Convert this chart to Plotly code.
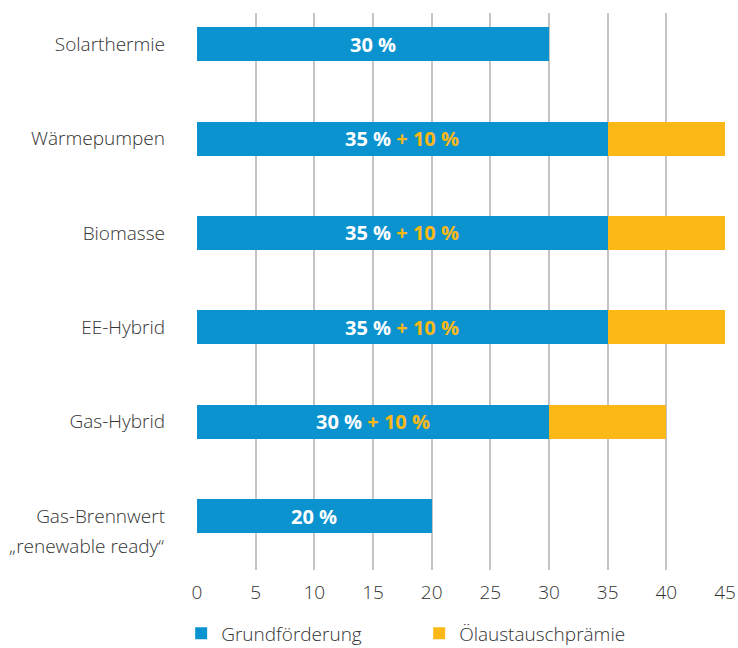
import plotly.graph_objects as go

categories = ["Solarthermie", "Wärmepumpen", "Biomasse", "EE-Hybrid", "Gas-Hybrid",
              "Gas-Brennwert"]
category_sublines = ["", "", "", "", "", "„renewable ready“"]
grundfoerderung = [30, 35, 35, 35, 30, 20]
oelaustausch = [0, 10, 10, 10, 10, 0]
x_ticks = [0, 5, 10, 15, 20, 25, 30, 35, 40, 45]

BLUE = "#0b93d0"
YELLOW = "#fcb817"
TXT = "#333333"
pos = list(range(len(categories)))

fig = go.Figure()
fig.add_trace(go.Bar(y=pos, x=grundfoerderung, orientation="h", name="Grundförderung",
                     marker=dict(color=BLUE, line=dict(width=0)), width=0.36))
fig.add_trace(go.Bar(y=pos, x=oelaustausch, orientation="h", name="Ölaustauschprämie",
                     marker=dict(color=YELLOW, line=dict(width=0)), width=0.36))

for p, g, o in zip(pos, grundfoerderung, oelaustausch):
    txt = f"<b>{g} %</b>"
    if o:
        txt += f" <b><span style='color:{YELLOW}'>+ {o} %</span></b>"
    fig.add_annotation(x=g / 2, y=p, text=txt, showarrow=False, xanchor="center", yanchor="middle",
                       font=dict(family="Open Sans", size=20, color="white"))

for p, sub in zip(pos, category_sublines):
    if sub:
        fig.add_annotation(x=0, xref="paper", y=p, text=sub, showarrow=False, xanchor="right",
                           yanchor="middle", xshift=-31, yshift=-30,
                           font=dict(family="Open Sans", size=19, color=TXT, weight=300))

fig.update_layout(
    barmode="stack",
    width=738, height=648,
    margin=dict(l=197, r=13, t=13, b=78, autoexpand=False),
    plot_bgcolor="white", paper_bgcolor="white",
    font=dict(family="Open Sans", size=19, color=TXT, weight=300),
    bargap=0,
    showlegend=True,
    legend=dict(orientation="h", x=-0.03, xanchor="left", y=-0.114, yanchor="middle",
                entrywidth=193, entrywidthmode="pixels",
                font=dict(size=19, color=TXT, weight=300),
                traceorder="normal", itemclick=False),
)
fig.update_xaxes(range=[0, 45], tickvals=x_ticks, showgrid=True, gridcolor="#c4c4c4", gridwidth=1.5,
                 zeroline=False, showline=False, ticks="", ticklabelstandoff=9, automargin=False,
                 tickfont=dict(size=19, color=TXT, weight=300))
fig.update_yaxes(range=[5.57, -0.33], tickvals=pos, ticktext=categories, showgrid=False,
                 zeroline=False, showline=False, ticks="", ticklabelstandoff=31, automargin=False,
                 tickfont=dict(size=19, color=TXT, weight=300))

fig.write_html("out.html", config={"displayModeBar": False},
               post_script="document.body.style.margin='0';")
